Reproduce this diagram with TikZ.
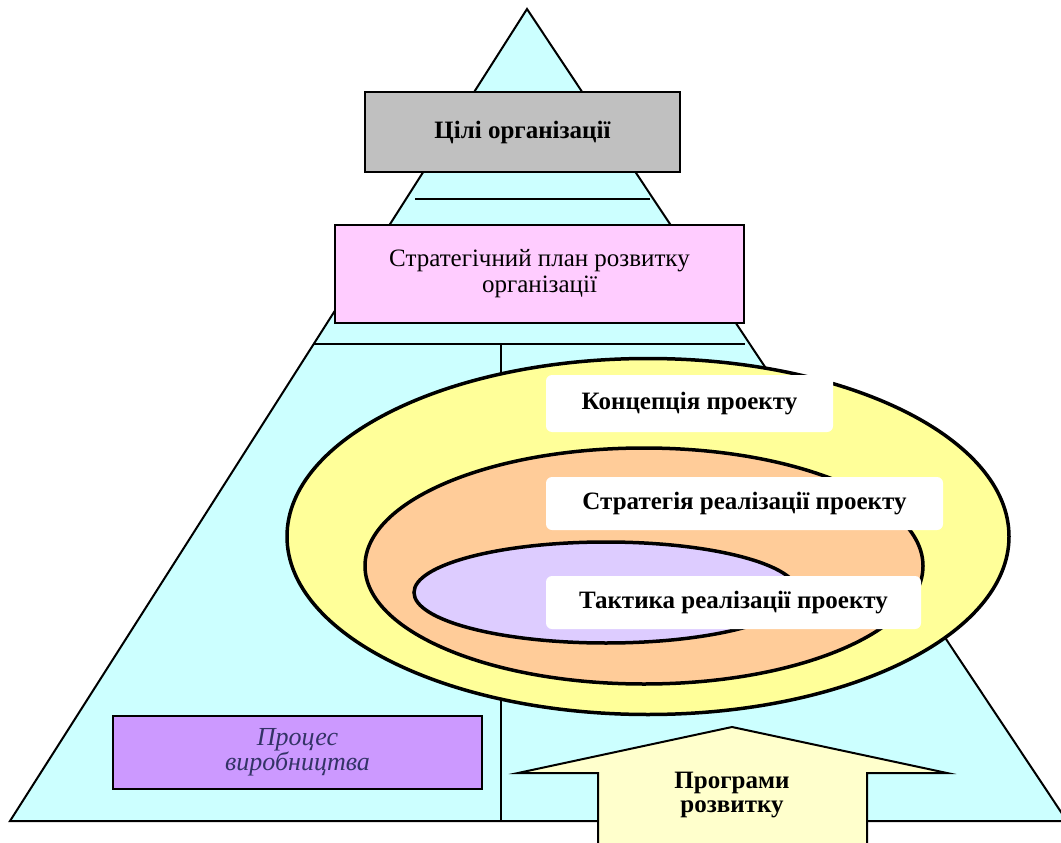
\documentclass[tikz,border=0pt]{standalone}
\usepackage{fontspec}
\setmainfont{Liberation Serif}
\definecolor{pyramid}{HTML}{CCFFFF}
\definecolor{goalgray}{HTML}{C0C0C0}
\definecolor{planpink}{HTML}{FFCCFF}
\definecolor{outeryellow}{HTML}{FFFF99}
\definecolor{midorange}{HTML}{FFCC99}
\definecolor{innerlilac}{HTML}{DDCCFF}
\definecolor{procviolet}{HTML}{CC99FF}
\definecolor{proctext}{HTML}{333366}
\definecolor{arrowcream}{HTML}{FFFFCC}
\begin{document}
\begin{tikzpicture}[x=1pt,y=-1pt,
  frame/.style={draw=black,line width=2pt,inner sep=0pt},
  rule/.style={line width=1.5pt},
  ring/.style={draw=black,line width=3.5pt},
  tag/.style={fill=white,rounded corners=6pt,inner sep=0pt,
    font=\bfseries\fontsize{25}{28}\selectfont},
  ]
\useasboundingbox (0,0) rectangle (1061,843);

% pyramid
\draw[line width=2pt,fill=pyramid,line join=miter]
  (527,9) -- (1067,821) -- (10,821) -- cycle;
\coordinate (r1a) at (415,199);
\coordinate (r1b) at (650,199);
\coordinate (r2a) at (313,344);
\coordinate (r2b) at (745,344);
\coordinate (vtop) at (501,344);
\coordinate (vbot) at (501,821);
\draw[rule] (r1a) -- (r1b);
\draw[rule] (r2a) -- (r2b);
\draw[rule] (vtop) -- (vbot);

% top levels
\node[frame,fill=goalgray,minimum width=315,minimum height=80,
  font=\bfseries\fontsize{25}{28}\selectfont] (goals) at (522.5,132)
  {Цілі організації};
\node[frame,fill=planpink,minimum width=409,minimum height=98,align=center,
  font=\fontsize{25}{26}\selectfont] (plan) at (539.5,274)
  {Стратегічний план розвитку\\організації};

% nested project ellipses
\draw[ring,fill=outeryellow] (648,536.5) ellipse [x radius=361,y radius=178];
\draw[ring,fill=midorange] (644,566) ellipse [x radius=279,y radius=118];
\draw[ring,fill=innerlilac] (606,592.5) ellipse [x radius=192,y radius=50.5];

\node[tag,minimum width=287,minimum height=57] (concept) at (689.5,403.5)
  {Концепція проекту};
\node[tag,minimum width=397,minimum height=53] (strategy) at (744.5,503.5)
  {Стратегія реалізації проекту};
\node[tag,minimum width=375,minimum height=53] (tactics) at (733.5,602.5)
  {Тактика реалізації проекту};

% production process
\node[frame,fill=procviolet,minimum width=369,minimum height=73,align=center,
  text=proctext,font=\itshape\fontsize{26}{25}\selectfont] (process) at (297.5,752.5)
  {Процес\\виробництва};

% development programmes arrow
\draw[line width=2pt,fill=arrowcream,line join=miter]
  (732,727) -- (947,773) -- (867,773) -- (867,850) -- (598,850)
  -- (598,773) -- (518,773) -- cycle;
\node[align=center,font=\bfseries\fontsize{25}{24}\selectfont] (programs) at (732,795)
  {Програми\\розвитку};
\end{tikzpicture}
\end{document}
